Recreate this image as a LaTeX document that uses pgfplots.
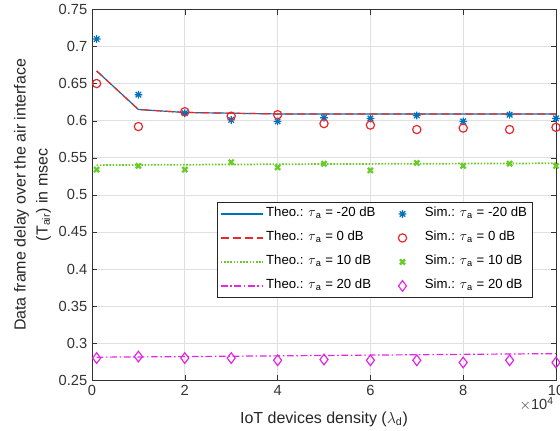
\documentclass[border=0pt]{standalone}
\usepackage{fontspec}
\setmainfont{Liberation Sans}
\usepackage{pgfplots}
\pgfplotsset{compat=1.18}
\definecolor{mblue}{rgb}{0,0.447,0.741}
\definecolor{mred}{RGB}{232,40,42}
\definecolor{mgreen}{RGB}{104,204,40}
\definecolor{mmag}{RGB}{226,40,226}
\pgfdeclareplotmark{ast8}{%
  \pgfpathmoveto{\pgfqpoint{-\pgfplotmarksize}{0pt}}\pgfpathlineto{\pgfqpoint{\pgfplotmarksize}{0pt}}%
  \pgfpathmoveto{\pgfqpoint{0pt}{-\pgfplotmarksize}}\pgfpathlineto{\pgfqpoint{0pt}{\pgfplotmarksize}}%
  \pgfpathmoveto{\pgfqpoint{-.7071\pgfplotmarksize}{-.7071\pgfplotmarksize}}\pgfpathlineto{\pgfqpoint{.7071\pgfplotmarksize}{.7071\pgfplotmarksize}}%
  \pgfpathmoveto{\pgfqpoint{-.7071\pgfplotmarksize}{.7071\pgfplotmarksize}}\pgfpathlineto{\pgfqpoint{.7071\pgfplotmarksize}{-.7071\pgfplotmarksize}}%
  \pgfusepathqstroke}
\pgfplotsset{
  lineleg/.style={legend image code/.code={\draw[##1,#1] (0cm,0cm) -- (1.1cm,0cm);}},
  markleg/.style={legend image code/.code={\draw[##1] plot coordinates {(0.3cm,0cm)}; \path[draw=none,fill=none] (0cm,0cm) rectangle (0.82cm,0cm);}},
}
\begin{document}
\begin{tikzpicture}
\begin{axis}[
  scale only axis,
  width=348pt, height=278.25pt,
  xmin=0, xmax=10, ymin=0.25, ymax=0.75,
  xtick={0,2,4,6,8,10},
  ytick={0.25,0.3,0.35,0.4,0.45,0.5,0.55,0.6,0.65,0.7,0.75},
  yticklabel style={/pgf/number format/fixed,/pgf/number format/precision=2},
  /pgf/number format/assume math mode=true,
  tick label style={font=\fontsize{11}{13}\selectfont, color=black!80},
  grid=major,
  grid style={black!12, line width=0.5pt},
  tick align=inside,
  xtick pos=both, ytick pos=both,
  major tick length=4pt,
  axis line style={black!80, line width=0.5pt},
  tick style={black!80},
  xlabel={IoT devices density (\(\lambda\)\textsubscript{d})},
  ylabel={Data frame delay over the air interface\\(T\textsubscript{air}) in msec},
  ylabel style={at={(axis description cs:-0.088,0.5)}, anchor=south, align=center, inner sep=0pt,
    font=\fontsize{12}{16.5}\selectfont, color=black!85},
  xlabel style={at={(axis description cs:0.5,0)}, anchor=base, yshift=-32.25pt, inner sep=0pt,
    font=\fontsize{12}{14}\selectfont, color=black!85},
  legend columns=2,
  legend style={at={(0.948,0.224)}, anchor=south east, draw=none, fill=white, name=leg,
    font=\fontsize{9.9}{12}\selectfont, row sep=2.5pt, column sep=0pt, inner ysep=0.5pt, inner xsep=1.5pt,
    nodes={inner xsep=2pt, inner ysep=2.5pt, text height=7.5pt, text depth=3pt},
    /tikz/every odd column/.append style={column sep=0pt},
    /tikz/column 2/.append style={column sep=9.7pt}},
  legend cell align=left,
  clip=false,
]
\coordinate (BL) at (rel axis cs:0,0);
\coordinate (TR) at (rel axis cs:1,1);
% Theo -20
\addplot[mblue, solid, line width=0.9pt, lineleg={draw=mblue, solid, line width=0.9pt}] coordinates {(0.1,0.667) (1,0.615) (2,0.611) (3,0.610) (4,0.609) (5,0.609) (6,0.609) (7,0.609) (8,0.609) (9,0.609) (10,0.609)};
\addlegendentry{Theo.: \(\tau\)\textsubscript{a} = -20 dB}
\addplot[mblue, only marks, mark=ast8, mark size=2.9pt, mark options={line width=0.9pt}, markleg] coordinates {(0.1,0.710) (1,0.635) (2,0.610) (3,0.601) (4,0.599) (5,0.604) (6,0.603) (7,0.607) (8,0.599) (9,0.608) (10,0.603)};
\addlegendentry{Sim.: \(\tau\)\textsubscript{a} = -20 dB}
% Theo 0
\addplot[mred, line width=0.9pt, dash pattern=on 6pt off 3pt, lineleg={draw=mred, line width=0.9pt, dash pattern=on 6pt off 3pt}] coordinates {(0.1,0.667) (1,0.615) (2,0.611) (3,0.610) (4,0.609) (5,0.609) (6,0.609) (7,0.609) (8,0.609) (9,0.609) (10,0.609)};
\addlegendentry{Theo.: \(\tau\)\textsubscript{a} = 0 dB}
\addplot[mred, only marks, mark=o, mark size=3.1pt, mark options={line width=0.9pt}, markleg] coordinates {(0.1,0.650) (1,0.592) (2,0.612) (3,0.606) (4,0.608) (5,0.596) (6,0.594) (7,0.588) (8,0.590) (9,0.588) (10,0.591)};
\addlegendentry{Sim.: \(\tau\)\textsubscript{a} = 0 dB}
% Theo 10
\addplot[mgreen, dash pattern=on 1.2pt off 1.2pt, line width=1.3pt, lineleg={draw=mgreen, dash pattern=on 1.2pt off 1.2pt, line width=1.3pt}] coordinates {(0.1,0.540) (1,0.5403) (2,0.5406) (3,0.5409) (4,0.5412) (5,0.5415) (6,0.5417) (7,0.5419) (8,0.5421) (9,0.5423) (10,0.5425)};
\addlegendentry{Theo.: \(\tau\)\textsubscript{a} = 10 dB}
\addplot[mgreen, only marks, mark=x, mark size=2.7pt, mark options={line width=1.7pt}, markleg] coordinates {(0.1,0.534) (1,0.539) (2,0.534) (3,0.544) (4,0.537) (5,0.542) (6,0.533) (7,0.543) (8,0.539) (9,0.542) (10,0.539)};
\addlegendentry{Sim.: \(\tau\)\textsubscript{a} = 10 dB}
% Theo 20
\addplot[mmag, line width=0.9pt, dash pattern=on 5pt off 2pt on 1.2pt off 2pt, lineleg={draw=mmag, line width=0.9pt, dash pattern=on 5pt off 2pt on 1.2pt off 2pt}] coordinates {(0.1,0.2812) (1,0.2815) (2,0.2820) (3,0.2825) (4,0.2830) (5,0.2835) (6,0.2840) (7,0.2845) (8,0.2850) (9,0.2855) (10,0.2860)};
\addlegendentry{Theo.: \(\tau\)\textsubscript{a} = 20 dB}
\addplot[mmag, only marks, mark=diamond, mark size=4pt, mark options={line width=0.9pt}, markleg] coordinates {(0.1,0.280) (1,0.282) (2,0.280) (3,0.280) (4,0.277) (5,0.278) (6,0.277) (7,0.277) (8,0.274) (9,0.277) (10,0.274)};
\addlegendentry{Sim.: \(\tau\)\textsubscript{a} = 20 dB}
\node[anchor=base east, font=\fontsize{11}{13}\selectfont, text=black!80, inner sep=0pt] at ([yshift=-21.75pt, xshift=-1.5pt]rel axis cs:1,0) {\(\times\)10\textsuperscript{4}};
\end{axis}
\draw[black!85, line width=0.5pt] (leg.south west) rectangle (leg.north east);
\pgfresetboundingbox
\path ([shift={(-69pt,-38pt)}]BL) rectangle ([shift={(3pt,7pt)}]TR);
\end{tikzpicture}
\end{document}
